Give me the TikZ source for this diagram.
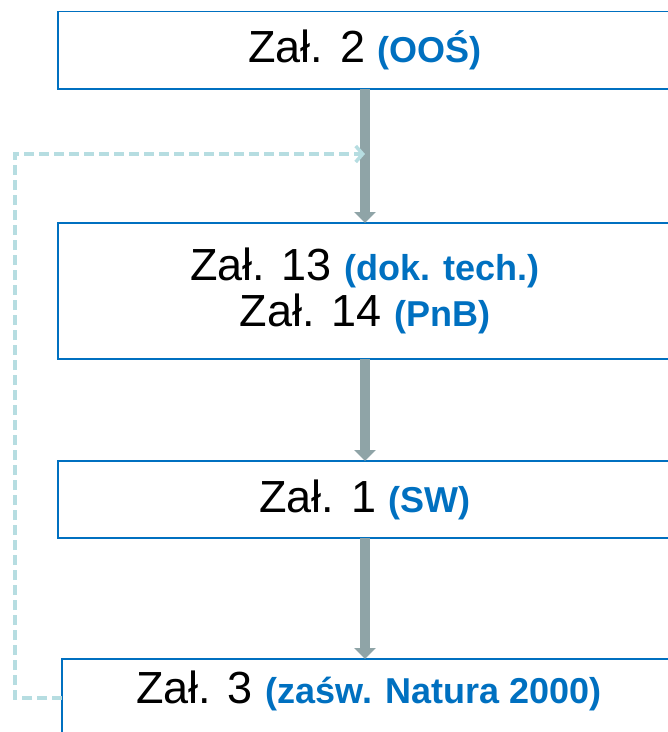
\documentclass[tikz,border=0pt]{standalone}
\usepackage{fontspec}
\setmainfont{Liberation Sans}
\usetikzlibrary{positioning,arrows.meta}
\definecolor{niebieski}{HTML}{0070C0}
\definecolor{szary}{HTML}{8FA4A7}
\definecolor{jasny}{HTML}{B6DDE1}
\newcommand{\opis}[1]{{\color{niebieski}\bfseries\fontsize{36}{46}\selectfont #1}}

\begin{document}
\begin{tikzpicture}[x=1pt,y=-1pt]
\tikzstyle{blok}=[draw=niebieski, line width=1.5pt, minimum width=614pt, inner sep=0pt, outer sep=0pt, align=center, font=\fontsize{45}{46}\selectfont]
\tikzstyle{strz}=[draw=szary, line width=10pt, -{Triangle[width=21pt,length=11pt]}]
\tikzstyle{powrot}=[draw=jasny, line width=3.5pt, dash pattern=on 10pt off 5pt, -{Straight Barb[length=7pt,width=16pt]}]

\useasboundingbox (0,0) rectangle (668,732);

\node[blok, minimum height=77.5pt, anchor=north west] (z2) at (58,11.5) {Zał. 2 \opis{(OOŚ)}};
\node[blok, minimum height=136pt, below=134pt of z2] (z13) {Zał. 13 \opis{(dok. tech.)}\\Zał. 14 \opis{(PnB)}};
\node[blok, minimum height=77pt, below=102pt of z13] (z1) {Zał. 1 \opis{(SW)}};
\node[blok, minimum height=77pt, text depth=21pt, below=121pt of z1, xshift=4pt] (z3) {Zał. 3 \opis{(zaśw. Natura 2000)}};

\draw[strz] (z2.south) -- (z13.north);
\draw[strz] (z13.south) -- (z1.north);
\draw[strz] (z1.south) -- (z3.north -| z1.south);

% powrot do Zal. 2
\coordinate (rog) at (15,698);
\coordinate (cel) at (365,154);
\draw[powrot] (z3.west |- rog) -- (rog) |- (cel);
\end{tikzpicture}
\end{document}
